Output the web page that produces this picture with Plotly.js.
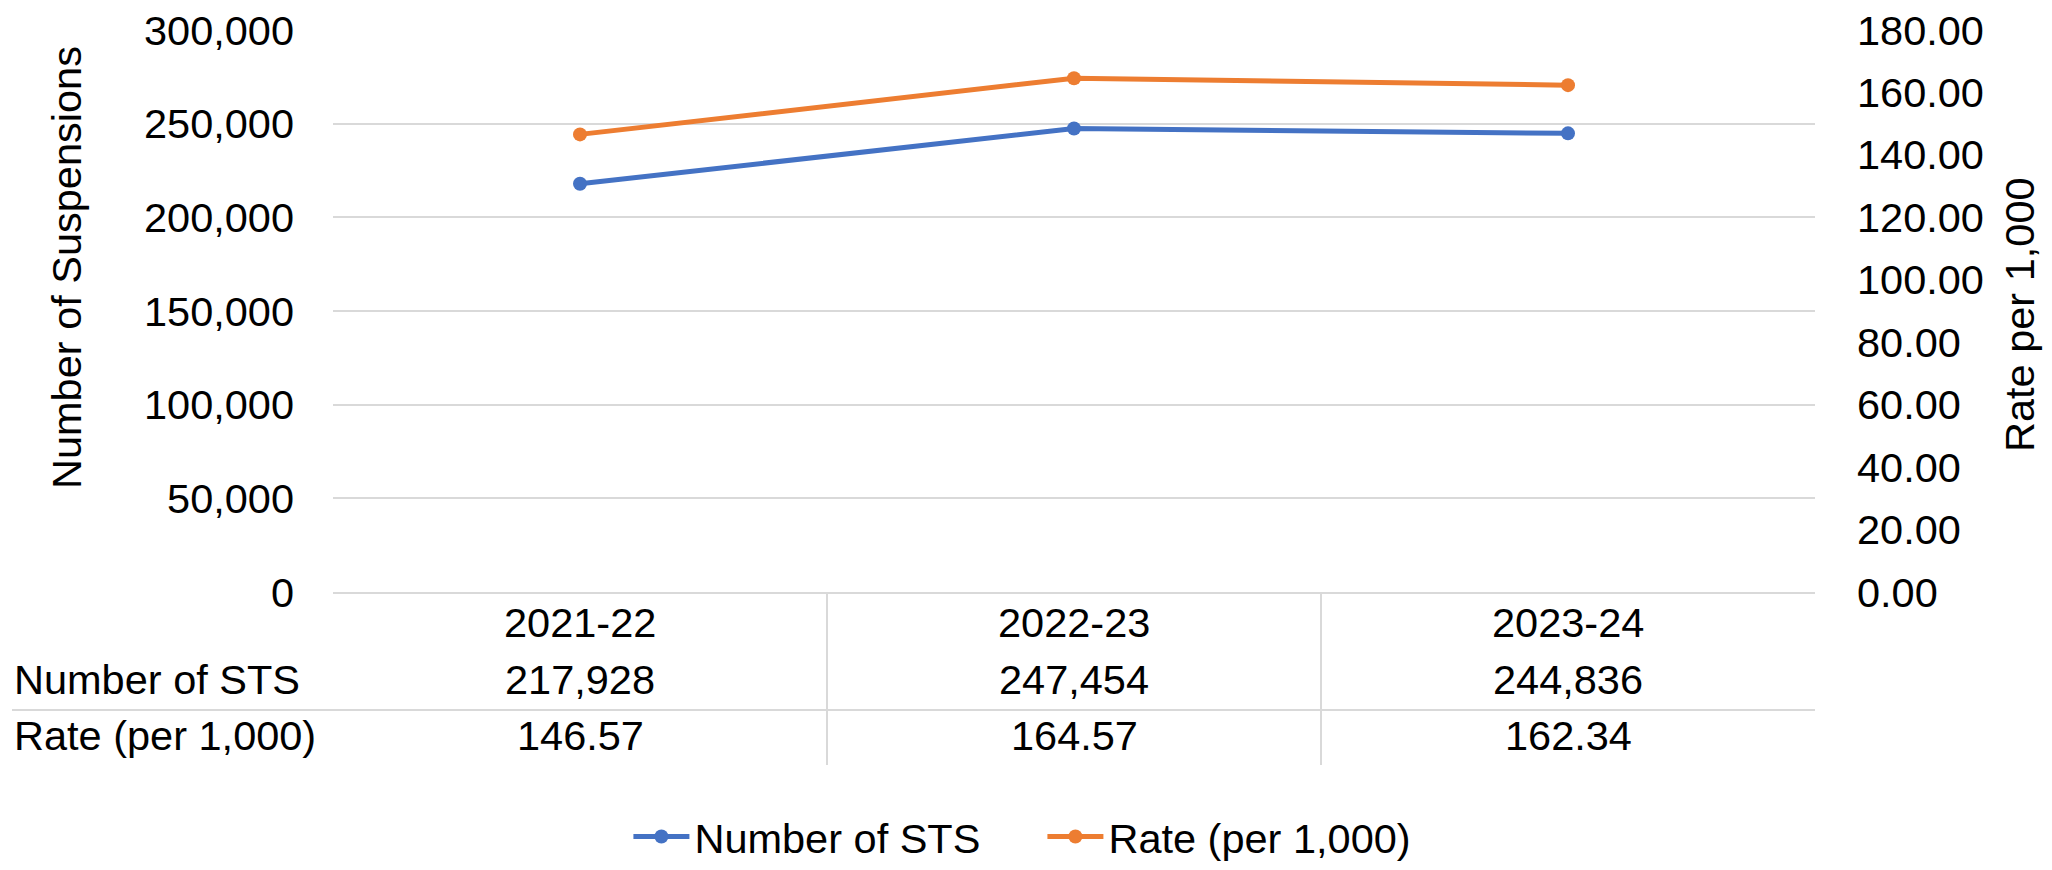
<!DOCTYPE html>
<html>
<head>
<meta charset="utf-8">
<script src="https://cdn.plot.ly/plotly-3.0.1.min.js"></script>
<style>
  html, body { margin: 0; padding: 0; background: #ffffff; }
  #chart { width: 2052px; height: 870px; }
</style>
</head>
<body>
<div id="chart"></div>
<script>
// ---- Data ----
const categories = ["2021-22", "2022-23", "2023-24"];
const numberOfSTS = [217928, 247454, 244836];
const ratePer1000 = [146.57, 164.57, 162.34];
const seriesNames = ["Number of STS", "Rate (per 1,000)"];
const leftTicks = [0, 50000, 100000, 150000, 200000, 250000, 300000];
const rightTicks = [0, 20, 40, 60, 80, 100, 120, 140, 160, 180];
const leftAxisTitle = "Number of Suspensions";
const rightAxisTitle = "Rate per 1,000";

// ---- Styling ----
const FONT = "Liberation Sans, Arial, Helvetica, sans-serif";
const FS = 41.5;
const BLUE = "#4472C4";
const ORANGE = "#ED7D31";
const GRID = "#d9d9d9";

const W = 2052, H = 870;
const L = 333, R = 1815, T = 30, B = 592;
const pw = R - L, ph = B - T;
const px2x = (px) => (px - L) / pw;
const py2y = (py) => (B - py) / ph;

const traces = [
  {
    x: categories, y: numberOfSTS, name: seriesNames[0],
    type: "scatter", mode: "lines+markers", yaxis: "y",
    line: { color: BLUE, width: 5 },
    marker: { color: BLUE, size: 14 },
    hoverinfo: "skip"
  },
  {
    x: categories, y: ratePer1000, name: seriesNames[1],
    type: "scatter", mode: "lines+markers", yaxis: "y2",
    line: { color: ORANGE, width: 5 },
    marker: { color: ORANGE, size: 14 },
    hoverinfo: "skip"
  }
];

// ---- Data table (text annotations) ----
const annotations = [];
const rowY = [py2y(622), py2y(679), py2y(735)];
categories.forEach((c, i) => {
  annotations.push({ x: c, xref: "x", y: rowY[0], yref: "paper", text: c, showarrow: false,
    xanchor: "center", yanchor: "middle", font: { family: FONT, size: FS, color: "#000" } });
  annotations.push({ x: c, xref: "x", y: rowY[1], yref: "paper", text: numberOfSTS[i].toLocaleString("en-US"), showarrow: false,
    xanchor: "center", yanchor: "middle", font: { family: FONT, size: FS, color: "#000" } });
  annotations.push({ x: c, xref: "x", y: rowY[2], yref: "paper", text: ratePer1000[i].toFixed(2), showarrow: false,
    xanchor: "center", yanchor: "middle", font: { family: FONT, size: FS, color: "#000" } });
});
annotations.push({ x: px2x(12), xref: "paper", y: rowY[1], yref: "paper", text: seriesNames[0], showarrow: false,
  xanchor: "left", yanchor: "middle", font: { family: FONT, size: FS, color: "#000" } });
annotations.push({ x: px2x(12), xref: "paper", y: rowY[2], yref: "paper", text: seriesNames[1], showarrow: false,
  xanchor: "left", yanchor: "middle", font: { family: FONT, size: FS, color: "#000" } });

// axis titles
annotations.push({ x: px2x(66), xref: "paper", y: py2y(268), yref: "paper", text: leftAxisTitle, textangle: -90,
  showarrow: false, xanchor: "center", yanchor: "middle", font: { family: FONT, size: FS, color: "#000" } });
annotations.push({ x: px2x(2020), xref: "paper", y: py2y(314), yref: "paper", text: rightAxisTitle, textangle: -90,
  showarrow: false, xanchor: "center", yanchor: "middle", font: { family: FONT, size: FS, color: "#000" } });

const shapes = [
  { type: "line", xref: "paper", yref: "paper", x0: px2x(12), x1: 1, y0: py2y(710), y1: py2y(710),
    line: { color: GRID, width: 2 } },
  { type: "line", xref: "paper", yref: "paper", x0: 1/3, x1: 1/3, y0: 0, y1: py2y(765),
    line: { color: GRID, width: 2 } },
  { type: "line", xref: "paper", yref: "paper", x0: 2/3, x1: 2/3, y0: 0, y1: py2y(765),
    line: { color: GRID, width: 2 } }
];

const layout = {
  width: W, height: H,
  margin: { l: L, r: W - R, t: T, b: H - B, pad: 0 },
  paper_bgcolor: "#ffffff", plot_bgcolor: "#ffffff",
  font: { family: FONT, size: FS, color: "#000" },
  showlegend: true,
  legend: {
    orientation: "h", xref: "container", yref: "container",
    x: 0.508, xanchor: "center", y: 0, yanchor: "bottom",
    font: { family: FONT, size: FS, color: "#000" },
    itemwidth: 56, entrywidth: 343, bgcolor: "rgba(0,0,0,0)",
    traceorder: "normal"
  },
  xaxis: {
    type: "category", range: [-0.5, 2.5], showticklabels: false, ticks: "",
    showgrid: false, zeroline: false, showline: true, linecolor: GRID, linewidth: 2,
    fixedrange: true
  },
  yaxis: {
    range: [0, 300000], tickvals: leftTicks, tickformat: ",", showgrid: true,
    gridcolor: GRID, gridwidth: 2, zeroline: false, showline: false, ticks: "",
    ticklabelstandoff: 38, tickfont: { family: FONT, size: FS, color: "#000" }, fixedrange: true
  },
  yaxis2: {
    overlaying: "y", side: "right", range: [0, 180], tickvals: rightTicks, tickformat: ".2f",
    showgrid: false, zeroline: false, showline: false, ticks: "",
    ticklabelstandoff: 41, tickfont: { family: FONT, size: FS, color: "#000" }, fixedrange: true
  },
  annotations: annotations,
  shapes: shapes,
  hovermode: false
};

Plotly.newPlot("chart", traces, layout, { staticPlot: true, displayModeBar: false });
</script>
</body>
</html>
